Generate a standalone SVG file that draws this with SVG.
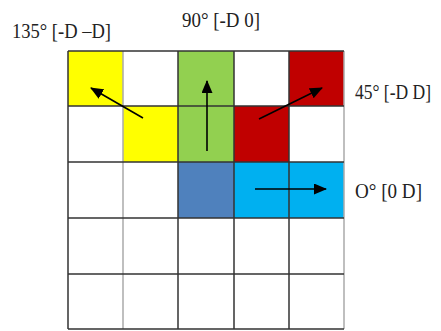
<svg xmlns="http://www.w3.org/2000/svg" width="441" height="331" viewBox="0 0 441 331">
<style>
.lbl{font-family:"Liberation Serif","Times New Roman",serif;font-size:20px;fill:#222}
.grid{stroke:#333;stroke-width:1.5;fill:none}
.lite{stroke:#aaa;stroke-width:1.5;fill:none}
.arr{stroke:#000;stroke-width:1.6;fill:none;marker-end:url(#ah)}
</style>
<defs>
<marker id="ah" viewBox="0 0 13 11" refX="12" refY="5.5" markerWidth="13" markerHeight="11" markerUnits="userSpaceOnUse" orient="auto">
<path d="M0,0 L13,5.5 L0,11 Z" fill="#000"/>
</marker>
</defs>
<rect width="441" height="331" fill="#fff"/>
<g id="cells">
<rect x="68" y="51" width="55" height="55" fill="#FFFF00"/>
<rect x="123" y="106" width="55" height="56" fill="#FFFF00"/>
<rect x="178" y="51" width="56" height="111" fill="#92D050"/>
<rect x="289" y="51" width="55" height="55" fill="#C00000"/>
<rect x="234" y="106" width="55" height="56" fill="#C00000"/>
<rect x="178" y="162" width="56" height="56" fill="#4F81BD"/>
<rect x="234" y="162" width="110" height="56" fill="#00B0F0"/>
</g>
<g id="grid">
<path class="grid" d="M68,51V329M178,51V329M234,51V329M289,51V329"/>
<path class="lite" d="M123,51V329M344,51V329"/>
<path class="grid" d="M68,51H344M68,106H344M68,162H344M68,218H344M68,274H344M68,329H344"/>
</g>
<g id="connectors">
<line class="arr" x1="143" y1="118" x2="91" y2="88"/>
<line class="arr" x1="207" y1="151" x2="207" y2="81"/>
<line class="arr" x1="259" y1="119" x2="322" y2="88"/>
<line class="arr" x1="255" y1="189" x2="326" y2="189"/>
</g>
<g id="labels">
<text class="lbl" x="12" y="38" textLength="99" lengthAdjust="spacingAndGlyphs">135° [-D –D]</text>
<text class="lbl" x="182" y="27" textLength="78" lengthAdjust="spacingAndGlyphs">90° [-D 0]</text>
<text class="lbl" x="355" y="99" textLength="76" lengthAdjust="spacingAndGlyphs">45° [-D D]</text>
<text class="lbl" x="355" y="198" textLength="67" lengthAdjust="spacingAndGlyphs">O° [0 D]</text>
</g>
</svg>
